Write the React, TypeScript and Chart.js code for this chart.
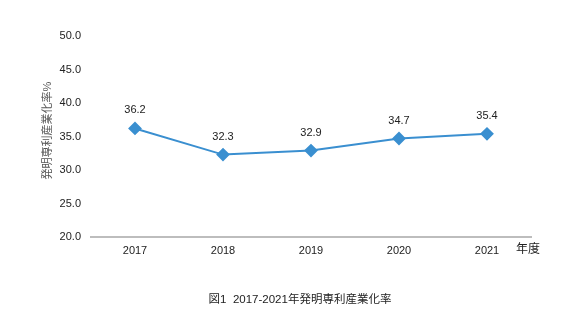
import React, { useEffect, useRef } from "react";
import { Chart, registerables } from "chart.js";

Chart.register(...registerables);

const categories = ["2017", "2018", "2019", "2020", "2021"];
const values = [36.2, 32.3, 32.9, 34.7, 35.4];
const yTitle = "発明専利産業化率%";
const xTitle = "年度";
const chartTitle = "図1  2017-2021年発明専利産業化率";

const FONT = "'Liberation Sans', 'Noto Sans CJK JP', sans-serif";

export default function App() {
  const ref = useRef<HTMLCanvasElement | null>(null);
  useEffect(() => {
    document.body.style.margin = "0";
    const labelsPlugin = {
      id: "extraLabels",
      afterDatasetsDraw(chart: any) {
        const ctx = chart.ctx;
        const meta = chart.getDatasetMeta(0);
        ctx.save();
        ctx.fillStyle = "#222";
        ctx.font = `11px ${FONT}`;
        ctx.textAlign = "center";
        ctx.textBaseline = "middle";
        meta.data.forEach((pt: any, i: number) => {
          ctx.fillText(values[i].toFixed(1), pt.x, pt.y - 18);
        });
        const area = chart.chartArea;
        // x title
        ctx.font = `12px ${FONT}`;
        ctx.textAlign = "left";
        ctx.fillText(xTitle, area.right - 15, area.bottom + 13);
        // chart title
        ctx.font = `11.5px ${FONT}`;
        ctx.textAlign = "center";
        ctx.fillText(chartTitle, 300, 300);
        // y title
        ctx.translate(48, (area.top + area.bottom) / 2 - 6);
        ctx.rotate(-Math.PI / 2);
        ctx.fillStyle = "#555";
        ctx.font = `11px ${FONT}`;
        ctx.fillText(yTitle, 0, 0);
        ctx.restore();
      },
    };
    const chart = new Chart(ref.current!, {
      type: "line",
      data: {
        labels: categories,
        datasets: [
          {
            data: values,
            borderColor: "#3a8fd0",
            backgroundColor: "#3a8fd0",
            borderWidth: 2,
            pointStyle: "rectRot",
            pointRadius: 5.5,
            pointHoverRadius: 5.5,
            tension: 0,
          },
        ],
      },
      options: {
        animation: false,
        responsive: false,
        layout: { padding: { left: 0, right: 45, top: 36, bottom: 0 } },
        plugins: { legend: { display: false }, tooltip: { enabled: false } },
        scales: {
          x: {
            offset: true,
            grid: { display: false, drawTicks: false },
            border: { display: true, color: "#bdbdbd", width: 2 },
            ticks: { color: "#222", font: { size: 11, family: FONT }, padding: 7 },
            afterFit(s: any) {
              s.height = 96;
            },
          },
          y: {
            min: 20,
            max: 50,
            grid: { display: false, drawTicks: false },
            border: { display: false },
            ticks: {
              stepSize: 5,
              color: "#222",
              font: { size: 11, family: FONT },
              padding: 10,
              callback: (v: any) => Number(v).toFixed(1),
            },
            afterFit(s: any) {
              s.width = 91;
            },
          },
        },
      },
      plugins: [labelsPlugin],
    });
    return () => chart.destroy();
  }, []);
  return (
    <div style={{ width: 576, height: 333 }}>
      <canvas ref={ref} width={576} height={333} style={{ width: 576, height: 333 }} />
    </div>
  );
}
